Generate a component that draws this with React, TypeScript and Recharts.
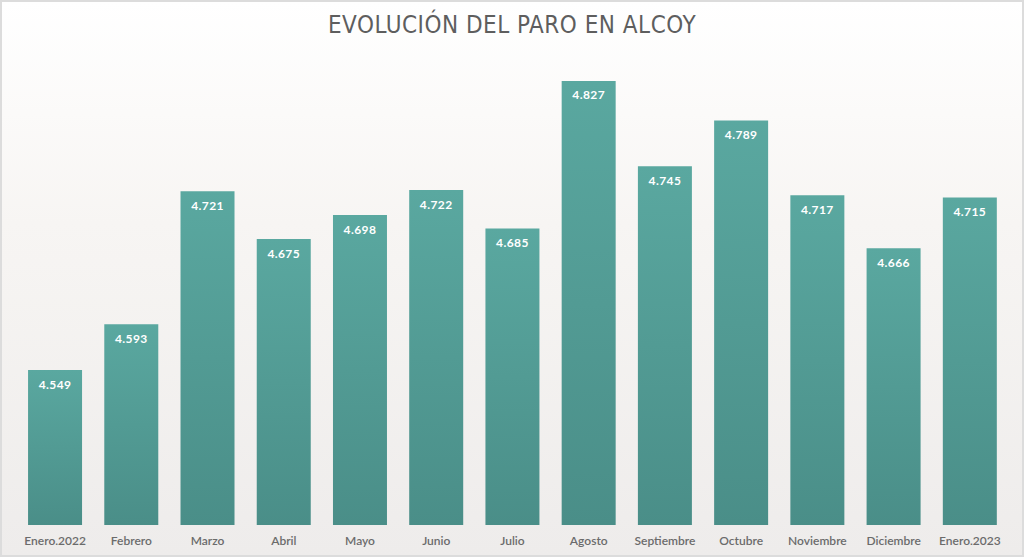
import { BarChart, Bar, XAxis, YAxis, LabelList, Cell } from 'recharts';

const months = [
  'Enero.2022', 'Febrero', 'Marzo', 'Abril', 'Mayo', 'Junio', 'Julio',
  'Agosto', 'Septiembre', 'Octubre', 'Noviembre', 'Diciembre', 'Enero.2023',
];
const parados = [4549, 4593, 4721, 4675, 4698, 4722, 4685, 4827, 4745, 4789, 4717, 4666, 4715];

const data = months.map((mes, i) => ({ mes, valor: parados[i] }));

// 4549 -> "4.549"
const fmt = (v: number) => v.toLocaleString('de-DE');

export default function App() {
  return (
    <div
      style={{
        position: 'fixed',
        top: 0,
        left: 0,
        width: 1024,
        height: 557,
        boxSizing: 'border-box',
        border: '2px solid #dcdcdc',
        background: 'linear-gradient(180deg, #ffffff 0%, #f7f5f3 40%, #eeeceb 100%)',
        fontFamily: 'Lato, sans-serif',
        overflow: 'hidden',
      }}
    >
      <div
        style={{
          position: 'absolute',
          top: 9,
          width: '100%',
          textAlign: 'center',
          fontSize: 24,
          color: '#5e5e5e',
          letterSpacing: 0.5,
          fontFamily: '"Liberation Sans Narrow", "DejaVu Sans Condensed", sans-serif',
        }}
      >
        EVOLUCIÓN DEL PARO EN ALCOY
      </div>
      <div style={{ position: 'absolute', top: -2, left: -2 }}>
        <BarChart
          width={1024}
          height={557}
          data={data}
          margin={{ top: 57, right: 16, bottom: 0, left: 17 }}
          barCategoryGap="14.5%"
        >
          <defs>
            <linearGradient id="tealGrad" x1="0" y1="0" x2="0" y2="1">
              <stop offset="0%" stopColor="#5aa8a0" />
              <stop offset="100%" stopColor="#4a8e88" />
            </linearGradient>
          </defs>
          <XAxis
            dataKey="mes"
            axisLine={false}
            tickLine={false}
            height={32}
            interval={0}
            tick={{ fill: '#6b6b6b', fontSize: 12, fontWeight: 600 }}
            tickMargin={5}
          />
          <YAxis hide domain={[4400, 4850]} allowDataOverflow />
          <Bar dataKey="valor" isAnimationActive={false} fill="url(#tealGrad)">
            {data.map((d) => (
              <Cell key={d.mes} fill="url(#tealGrad)" />
            ))}
            <LabelList
              dataKey="valor"
              position="insideTop"
              offset={10}
              formatter={(v: number) => fmt(v)}
              style={{ fill: '#ffffff', fontSize: 12, fontWeight: 700, letterSpacing: 0.4 }}
            />
          </Bar>
        </BarChart>
      </div>
    </div>
  );
}
